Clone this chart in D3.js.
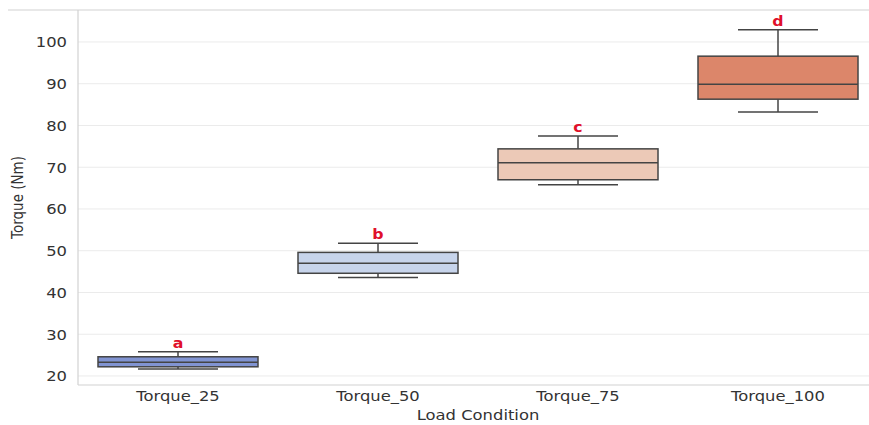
<!DOCTYPE html>
<html><head><meta charset="utf-8">
<script src="https://cdn.jsdelivr.net/npm/d3@7"></script>
<style>body{margin:0;background:#fff}svg{display:block}text{font-family:"DejaVu Sans",sans-serif}</style>
</head><body><svg id="c" width="869" height="425"></svg>
<script>
const categories = ["Torque_25","Torque_50","Torque_75","Torque_100"];
const whiskerLow = [21.7, 43.6, 65.8, 83.2];
const q1 = [22.2, 44.6, 67.0, 86.3];
const median = [23.3, 47.0, 71.1, 89.9];
const q3 = [24.6, 49.6, 74.4, 96.6];
const whiskerHigh = [25.8, 51.8, 77.5, 102.9];
const letters = ["a","b","c","d"];
const colors = ["#8194d2","#c7d4eb","#ecc9b7","#dc866a"];
const yTicks = [20,30,40,50,60,70,80,90,100];

const svg = d3.select("#c");
const L = 78, R = 878, T = 10, B = 385;
const SX = 1.17;
const x = d3.scaleBand().domain(categories).range([L, R]).paddingInner(0).paddingOuter(0);
const y = d3.scaleLinear().domain([17.84, 107.66]).range([B, T]);
const bw = x.bandwidth() * 0.8;

svg.append("g").selectAll("line").data(yTicks).join("line")
  .attr("x1", L).attr("x2", 869).attr("y1", d => y(d)).attr("y2", d => y(d))
  .attr("stroke", "#ebebeb").attr("stroke-width", 1);

svg.append("line").attr("x1", 8).attr("x2", 869).attr("y1", T).attr("y2", T).attr("stroke", "#d2d2d2").attr("stroke-width", 1.2);
svg.append("line").attr("x1", L).attr("x2", L).attr("y1", T).attr("y2", B).attr("stroke", "#d2d2d2").attr("stroke-width", 1.2);
svg.append("line").attr("x1", L).attr("x2", 869).attr("y1", B).attr("y2", B).attr("stroke", "#d2d2d2").attr("stroke-width", 1.2);

const yAxis = d3.axisLeft(y).tickValues(yTicks).tickSize(0).tickPadding(0);
const ga = svg.append("g").attr("transform", `translate(${L},0)`).call(yAxis);
ga.select(".domain").remove();
ga.selectAll(".tick text").attr("fill", "#333").style("font-size", "14px")
  .attr("x", 0).attr("dy", "0.35em")
  .attr("transform", `translate(-11,0) scale(${SX},1)`);

const xAxis = d3.axisBottom(x).tickSize(0).tickPadding(0);
const gx = svg.append("g").attr("transform", `translate(0,${B})`).call(xAxis);
gx.select(".domain").remove();
gx.selectAll(".tick text").attr("fill", "#333").style("font-size", "14px")
  .attr("y", 0).attr("dy", "0.71em")
  .attr("transform", `translate(0,6) scale(${SX},1)`);

svg.append("text").attr("transform", `translate(${(L+R)/2},420) scale(${SX},1)`)
  .attr("text-anchor", "middle").style("font-size", "14px").attr("fill", "#333").text("Load Condition");
svg.append("text").attr("transform", `translate(23,${(T+B)/2}) rotate(-90) scale(1,1.15)`)
  .attr("text-anchor", "middle").style("font-size", "13.5px").attr("fill", "#333").text("Torque (Nm)");

const stroke = "#444", sw = 1.5;
const g = svg.append("g");
categories.forEach((c, i) => {
  const cx = x(c) + x.bandwidth() / 2;
  g.append("line").attr("x1", cx).attr("x2", cx).attr("y1", y(q3[i])).attr("y2", y(whiskerHigh[i])).attr("stroke", stroke).attr("stroke-width", sw);
  g.append("line").attr("x1", cx).attr("x2", cx).attr("y1", y(q1[i])).attr("y2", y(whiskerLow[i])).attr("stroke", stroke).attr("stroke-width", sw);
  g.append("line").attr("x1", cx - bw/4).attr("x2", cx + bw/4).attr("y1", y(whiskerHigh[i])).attr("y2", y(whiskerHigh[i])).attr("stroke", stroke).attr("stroke-width", sw);
  g.append("line").attr("x1", cx - bw/4).attr("x2", cx + bw/4).attr("y1", y(whiskerLow[i])).attr("y2", y(whiskerLow[i])).attr("stroke", stroke).attr("stroke-width", sw);
  g.append("rect").attr("x", cx - bw/2).attr("width", bw).attr("y", y(q3[i])).attr("height", y(q1[i]) - y(q3[i]))
    .attr("fill", colors[i]).attr("stroke", stroke).attr("stroke-width", sw);
  g.append("line").attr("x1", cx - bw/2).attr("x2", cx + bw/2).attr("y1", y(median[i])).attr("y2", y(median[i])).attr("stroke", stroke).attr("stroke-width", sw);
  g.append("text").attr("transform", `translate(${cx},${y(whiskerHigh[i]) - 4}) scale(${SX},1)`)
    .attr("text-anchor", "middle").style("font-size", "13.5px").style("font-weight", "bold").attr("fill", "#e0102a").text(letters[i]);
});
</script></body></html>
